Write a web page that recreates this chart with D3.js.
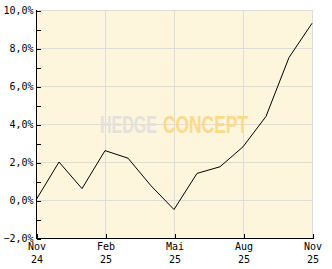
<!DOCTYPE html>
<html><head><meta charset="utf-8">
<script src="https://cdn.jsdelivr.net/npm/d3@7"></script>
<style>body{margin:0;background:#fff}svg{display:block}</style>
</head><body>
<svg id="c" width="332" height="269"></svg>
<script>
const months = ["2024-11","2024-12","2025-01","2025-02","2025-03","2025-04","2025-05","2025-06","2025-07","2025-08","2025-09","2025-10","2025-11"];
const values = [0.0, 2.0, 0.6, 2.6, 2.2, 0.75, -0.5, 1.4, 1.75, 2.8, 4.4, 7.5, 9.3];
const yTicks = [-2, 0, 2, 4, 6, 8, 10];
const yMinorTicks = [-1, 1, 3, 5, 7, 9];
const xTickMonths = ["2024-11","2025-02","2025-05","2025-08","2025-11"];
const xTickLabels = [["Nov","24"],["Feb","25"],["Mai","25"],["Aug","25"],["Nov","25"]];

const svg = d3.select("#c");
const L = 36, R = 312, T = 10, B = 238;
const x = d3.scaleLinear().domain([0, months.length - 1]).range([L, R]);
const y = d3.scaleLinear().domain([-2, 10]).range([B, T]);
const idx = m => months.indexOf(m);

svg.append("rect").attr("x", L).attr("y", T).attr("width", R - L).attr("height", B - T).attr("fill", "#fdf5dc");

const grid = svg.append("g").attr("stroke", "#dcdcdc").attr("stroke-width", 1).attr("shape-rendering", "crispEdges");
yTicks.forEach(t => grid.append("line").attr("x1", L).attr("x2", R).attr("y1", y(t) + 0.5).attr("y2", y(t) + 0.5));
xTickMonths.forEach(m => grid.append("line").attr("x1", x(idx(m)) + 0.5).attr("x2", x(idx(m)) + 0.5).attr("y1", T).attr("y2", B));

// watermark (each word fitted to its width by a horizontal scale)
function word(txt, x0, w, fill) {
  const t = svg.append("text").attr("font-family", "Liberation Sans, Arial, sans-serif").attr("font-weight", "bold").attr("font-size", 24).attr("fill", fill).text(txt);
  const nat = t.node().getComputedTextLength();
  t.attr("transform", `translate(${x0},133) scale(${w / nat},1)`);
}
word("HEDGE", 100, 57, "#e3e1dc");
word("CONCEPT", 163, 85, "#fdd98a");

// line
const line = d3.line().x((d, i) => x(i)).y(d => y(d));
svg.append("path").datum(values).attr("d", line).attr("fill", "none").attr("stroke", "#000").attr("stroke-width", 1);

// axes
const yAxis = d3.axisLeft(y).tickValues(yTicks.concat(yMinorTicks)).tickSize(-4).tickFormat(d => yTicks.includes(d) ? d3.format(".1f")(d).replace(".", ",") + "%" : "").tickPadding(7);
const gy = svg.append("g").attr("transform", `translate(${L + 0.5},0)`).call(yAxis);
gy.select(".domain").attr("d", `M0,${T}V${B + 0.5}`).attr("stroke", "#000").attr("shape-rendering", "crispEdges");
gy.selectAll(".tick line").attr("stroke", "#000").attr("shape-rendering", "crispEdges").attr("transform", "translate(0,0.5)");
gy.selectAll("text").attr("font-family", "DejaVu Sans Mono, monospace").attr("font-size", 10).attr("fill", "#000").attr("x", -3);

const xAxis = d3.axisBottom(x).tickValues(xTickMonths.map(idx)).tickSize(-5).tickFormat("");
const gx = svg.append("g").attr("transform", `translate(0.5,${B + 0.5})`).call(xAxis);
gx.select(".domain").attr("d", `M${L},0H${R}`).attr("stroke", "#000").attr("shape-rendering", "crispEdges");
gx.selectAll(".tick line").attr("stroke", "#000").attr("shape-rendering", "crispEdges");
gx.selectAll(".tick").each(function(d, i) {
  const t = d3.select(this).append("text").attr("font-family", "DejaVu Sans Mono, monospace").attr("font-size", 10).attr("fill", "#000").attr("text-anchor", "middle");
  t.append("tspan").attr("x", 0).attr("y", 11).text(xTickLabels[i][0]);
  t.append("tspan").attr("x", 0).attr("y", 24).text(xTickLabels[i][1]);
});
</script>
</body></html>
